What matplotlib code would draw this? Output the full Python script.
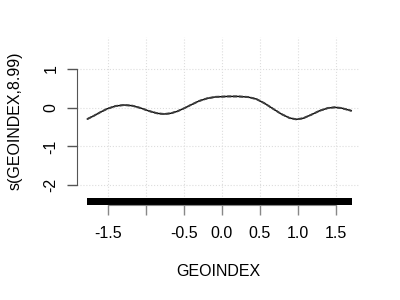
import matplotlib
matplotlib.use("Agg")
import matplotlib.pyplot as plt
from matplotlib.patches import Rectangle
import matplotlib.transforms as mtransforms

# smooth term
geo = [-1.772, -1.684, -1.596, -1.509, -1.399, -1.289, -1.180, -1.070, -0.961,
       -0.851, -0.763, -0.675, -0.588, -0.500, -0.412, -0.303, -0.193, -0.083,
       0.079, 0.211, 0.342, 0.451, 0.561, 0.671, 0.781, 0.890, 0.978, 1.066,
       1.175, 1.285, 1.395, 1.483, 1.570, 1.701]
fit = [-0.292, -0.206, -0.111, -0.026, 0.044, 0.070, 0.052, -0.008, -0.085,
       -0.145, -0.163, -0.145, -0.093, -0.016, 0.070, 0.173, 0.243, 0.280,
       0.292, 0.292, 0.276, 0.225, 0.113, -0.026, -0.163, -0.266, -0.300, -0.274,
       -0.181, -0.078, -0.008, 0.010, -0.008, -0.078]
se = 0.012
rug_range = [-1.78, 1.71]

xticks = [-1.5, -1.0, -0.5, 0.0, 0.5, 1.0, 1.5]
xticklabels = ["-1.5", "", "-0.5", "0.0", "0.5", "1.0", "1.5"]
yticks = [-2, -1, 0, 1]

plt.rcParams['font.family'] = ['Liberation Sans', 'DejaVu Sans']
fs = 11.5

fig = plt.figure(figsize=(4, 3), dpi=100)
ax = fig.add_axes([77/400, 1 - 204.5/300, (360-77)/400, (204.5-37)/300])

ax.set_xlim(-1.908, 1.816)
ax.set_ylim(-2.50, 1.827)

# grid
for t in xticks:
    ax.axvline(t, color='#dddddd', lw=0.8, ls=':', zorder=0)
for t in yticks:
    ax.axhline(t, color='#dddddd', lw=0.8, ls=':', zorder=0)

ax.plot(geo, fit, color='black', lw=1.0, zorder=3)
ax.plot(geo, [f + se for f in fit], color='#444444', lw=0.8, ls='--', zorder=3)
ax.plot(geo, [f - se for f in fit], color='#444444', lw=0.8, ls='--', zorder=3)

# rug (dense, drawn as a band)
trans = mtransforms.blended_transform_factory(ax.transData, ax.transAxes)
ax.add_patch(Rectangle((rug_range[0], 0), rug_range[1] - rug_range[0], 0.040,
                       transform=trans, facecolor='black', lw=0, zorder=2,
                       clip_on=False))

for s in ['top', 'right']:
    ax.spines[s].set_visible(False)
ax.spines['left'].set_bounds(-2, 1)
ax.spines['left'].set_color('#555555')
ax.spines['bottom'].set_bounds(-1.5, 1.5)
ax.spines['bottom'].set_color('#888888')

ax.set_xticks(xticks)
ax.set_xticklabels(xticklabels)
ax.set_yticks(yticks)
ax.set_yticklabels([str(t) for t in yticks], rotation=90, va='center')
ax.tick_params(axis='x', length=7.2, width=1, color='#888888', pad=8, labelsize=fs)
ax.tick_params(axis='y', length=7.2, width=1, color='#555555', pad=6, labelsize=fs)

ax.set_xlabel("GEOINDEX", fontsize=fs, labelpad=17)
ax.set_ylabel("s(GEOINDEX,8.99)", fontsize=fs, labelpad=15)

fig.savefig("out.png", dpi=100)
